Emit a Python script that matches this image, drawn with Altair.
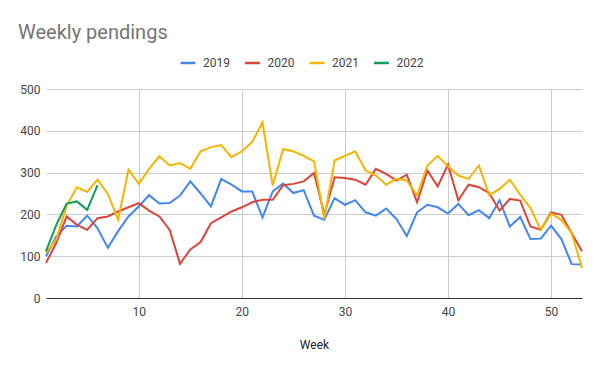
import altair as alt
import pandas as pd

weeks = list(range(1, 54))
y2019 = [100, 147, 173, 171, 197, 167, 120, 160, 195, 219, 246, 226, 227, 245, 279, 250, 219, 285, 271, 255,
         255, 193, 255, 274, 251, 258, 197, 187, 239, 223, 234, 205, 197, 214, 189, 148, 205, 223, 217, 202,
         225, 198, 210, 191, 234, 171, 194, 141, 142, 173, 141, 81, 80]
y2020 = [84, 132, 195, 175, 163, 191, 195, 207, 217, 227, 209, 195, 163, 82, 116, 134, 179, 193, 207, 217,
         229, 235, 235, 270, 273, 279, 299, 200, 289, 287, 283, 271, 309, 297, 281, 295, 229, 305, 267, 319,
         234, 271, 265, 251, 209, 237, 233, 171, 163, 205, 199, 155, 112]
y2021 = [108, 140, 221, 265, 254, 283, 249, 187, 307, 273, 309, 339, 317, 323, 309, 351, 361, 366, 337, 351,
         373, 420, 269, 356, 351, 340, 327, 189, 329, 340, 351, 305, 293, 271, 285, 281, 245, 317, 340, 315,
         293, 285, 317, 246, 261, 283, 247, 215, 163, 202, 187, 155, 72]
y2022 = [112, 175, 226, 231, 211, 270]

series_names = ["2019", "2020", "2021", "2022"]
series_colors = ["#4285F4", "#DB4437", "#F4B400", "#0F9D58"]

rows = []
for name, vals in zip(series_names, [y2019, y2020, y2021, y2022]):
    for w, v in zip(weeks, vals):
        rows.append({"Week": w, "Value": v, "Year": name})
df = pd.DataFrame(rows)

FONT = "Roboto"

chart = alt.Chart(df).mark_line(strokeWidth=2).encode(
    x=alt.X("Week:Q",
            scale=alt.Scale(domain=[1, 53], nice=False, zero=False),
            axis=alt.Axis(values=[10, 20, 30, 40, 50], title="Week", grid=True,
                          gridColor="#cccccc", domainColor="#333333", domainWidth=1,
                          ticks=False, labelPadding=8, titlePadding=22,
                          labelColor="#444444", titleColor="#222222",
                          labelFontSize=12, titleFontSize=12, titleFontWeight="normal")),
    y=alt.Y("Value:Q",
            scale=alt.Scale(domain=[0, 500], nice=False),
            axis=alt.Axis(values=[0, 100, 200, 300, 400, 500], title=None, grid=True,
                          gridColor="#cccccc", domain=False, ticks=False, labelPadding=6,
                          labelColor="#444444", labelFontSize=12)),
    color=alt.Color("Year:N",
                    scale=alt.Scale(domain=series_names, range=series_colors),
                    legend=alt.Legend(title=None, orient="none", direction="horizontal",
                                      legendX=133, legendY=-35,
                                      symbolType="stroke", symbolStrokeWidth=2.5, symbolSize=220,
                                      labelFontSize=12, labelColor="#444444", labelFont=FONT,
                                      columnPadding=9.5, labelOffset=6)),
    order=alt.Order("Week:Q"),
).properties(
    width=536,
    height=209,
    autosize=alt.AutoSizeParams(type="none"),
    padding={"left": 38, "top": 81, "right": 10, "bottom": 60},
    title=alt.TitleParams("Weekly pendings", anchor="start", frame="group", fontSize=20,
                          color="#757575", font=FONT, fontWeight="normal", dx=-28, dy=-7),
).configure_view(stroke=None).configure_axis(labelFont=FONT, titleFont=FONT)

chart.save("out.html", embed_options={"renderer": "svg", "actions": False})
